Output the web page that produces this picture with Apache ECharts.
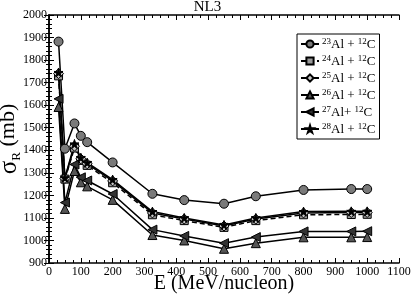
<!DOCTYPE html>
<html>
<head>
<meta charset="utf-8">
<script src="https://cdn.jsdelivr.net/npm/echarts@6/dist/echarts.min.js"></script>
<style>
html,body{margin:0;padding:0;background:#fff;}
#c{width:415px;height:297px;}
</style>
</head>
<body>
<div id="c"></div>
<script>
var energies = [30, 50, 80, 100, 120, 200, 325, 425, 550, 650, 800, 950, 1000];
var al23 = [1882, 1407, 1519, 1464, 1436, 1346, 1207, 1179, 1163, 1196, 1224, 1228, 1228];
var al24 = [1730, 1272, 1410, 1355, 1333, 1256, 1114, 1088, 1058, 1088, 1114, 1115, 1116];
var al25 = [1740, 1275, 1418, 1362, 1340, 1264, 1122, 1095, 1064, 1095, 1122, 1124, 1124];
var al26 = [1592, 1140, 1308, 1258, 1240, 1180, 1024, 1000, 963, 988, 1014, 1014, 1015];
var al27 = [1628, 1168, 1337, 1280, 1266, 1206, 1048, 1020, 988, 1015, 1040, 1040, 1041];
var al28 = [1745, 1278, 1428, 1367, 1345, 1270, 1128, 1100, 1069, 1100, 1128, 1129, 1129];
var seriesNames = ['23Al+12C', '24Al+12C', '25Al+12C', '26Al+12C', '27Al+12C', '28Al+12C'];
var legendLabels = ['{sup|23}{n|Al + }{sup|12}{n|C}', '{sup|24}{n|Al + }{sup|12}{n|C}', '{sup|25}{n|Al + }{sup|12}{n|C}',
                    '{sup|26}{n|Al + }{sup|12}{n|C}', '{sup|27}{n|Al+ }{sup|12}{n|C}', '{sup|28}{n|Al + }{sup|12}{n|C}'];
var title = 'NL3';
var xName = 'E (MeV/nucleon)';

function pairs(vals){ return energies.map(function(e,i){ return [e, vals[i]]; }); }
function plain(v){ return String(v); }

var serif = 'Liberation Serif';
var leftTri = 'path://M0,50 L100,0 L100,100 Z';
var star = 'path://M50,0 L61,35 L98,35 L68,57 L79,91 L50,70 L21,91 L32,57 L2,35 L39,35 Z';

var styles = [
  {symbol:'circle', size:9, fill:'#7a7a7a', dash:'solid'},
  {symbol:'rect', size:8, fill:'#9a9a9a', dash:[5,3]},
  {symbol:'diamond', size:10, fill:'#c8c8c8', dash:'solid'},
  {symbol:'triangle', size:9, fill:'#555', dash:'solid'},
  {symbol:leftTri, size:9, fill:'#333', dash:'solid'},
  {symbol:star, size:9, fill:'#000', dash:'solid'}
];
var datasets = [al23, al24, al25, al26, al27, al28];

var series = datasets.map(function(d,i){
  var s = styles[i];
  return {
    name: seriesNames[i], type:'line', xAxisIndex:0, yAxisIndex:0,
    data: pairs(d), symbol: s.symbol, symbolSize: s.size, showSymbol:true,
    lineStyle:{color:'#000', width:1.5, type:s.dash},
    itemStyle:{color:s.fill, borderColor:'#000', borderWidth:1},
    emphasis:{disabled:true}, animation:false
  };
});

var chart = echarts.init(document.getElementById('c'), null, {renderer:'canvas'});
chart.setOption({
  backgroundColor:'#fff',
  animation:false,
  title:{text:title, left:'center', top:0, padding:0, textStyle:{fontFamily:serif, fontSize:15, lineHeight:15, fontWeight:'normal', color:'#000'}},
  grid:{left:49, right:16, top:15, bottom:34, containLabel:false, outerBoundsMode:'none'},
  legend:{
    orient:'vertical', left:297, top:34, width:84,
    data: seriesNames, itemWidth:18, itemHeight:9, itemGap:3,
    padding:[3,4,3,3], borderColor:'#000', borderWidth:1, backgroundColor:'#fff',
    formatter:function(name){ return legendLabels[seriesNames.indexOf(name)]; },
    textStyle:{fontFamily:serif, fontSize:13, color:'#000', padding:[0,0,0,-2],
      rich:{ n:{fontFamily:serif, fontSize:13, lineHeight:14, verticalAlign:'bottom', color:'#000'},
             sup:{fontFamily:serif, fontSize:9, lineHeight:9, verticalAlign:'top', color:'#000'} }}
  },
  xAxis:[
    {type:'value', min:0, max:1100, interval:100, position:'bottom',
     axisLine:{lineStyle:{color:'#000', width:1.5}},
     axisTick:{inside:true, length:5, lineStyle:{color:'#000', width:1}},
     minorTick:{show:true, splitNumber:4, length:3, lineStyle:{color:'#000', width:1}},
     splitLine:{show:false}, minorSplitLine:{show:false},
     axisLabel:{fontFamily:serif, fontSize:12, color:'#000', margin:3, formatter:plain},
     name:xName, nameLocation:'middle', nameGap:11, nameMoveOverlap:false,
     nameTextStyle:{fontFamily:serif, fontSize:20, color:'#000'}},
    {type:'value', min:0, max:1100, interval:100, position:'top',
     axisLine:{lineStyle:{color:'#000', width:1.5}},
     axisTick:{inside:true, length:5, lineStyle:{color:'#000', width:1}},
     minorTick:{show:true, splitNumber:4, length:3, lineStyle:{color:'#000', width:1}},
     splitLine:{show:false}, axisLabel:{show:false}}
  ],
  yAxis:[
    {type:'value', min:900, max:2000, interval:100, position:'left',
     axisLine:{show:true, lineStyle:{color:'#000', width:1.5}},
     axisTick:{show:true, inside:true, length:5, lineStyle:{color:'#000', width:1}},
     minorTick:{show:true, splitNumber:5, length:3, lineStyle:{color:'#000', width:1}},
     splitLine:{show:false}, minorSplitLine:{show:false},
     axisLabel:{fontFamily:serif, fontSize:12, color:'#000', margin:2, formatter:plain},
     name:'{g|σ}{r|R}{s| (mb)}', nameLocation:'middle', nameGap:26, nameMoveOverlap:false,
     nameTextStyle:{fontFamily:serif, color:'#000',
       rich:{ g:{fontFamily:serif, fontSize:25, lineHeight:26, verticalAlign:'top', color:'#000'},
              s:{fontFamily:serif, fontSize:22, lineHeight:26, verticalAlign:'top', color:'#000'},
              r:{fontFamily:serif, fontSize:13, lineHeight:13, verticalAlign:'bottom', color:'#000'} }}},
    {type:'value', min:900, max:2000, interval:100, position:'right',
     axisLine:{show:true, lineStyle:{color:'#000', width:1.5}},
     axisTick:{show:true, inside:true, length:5, lineStyle:{color:'#000', width:1}},
     minorTick:{show:true, splitNumber:5, length:3, lineStyle:{color:'#000', width:1}},
     splitLine:{show:false}, axisLabel:{show:false}}
  ],
  series: series
});
</script>
</body>
</html>
